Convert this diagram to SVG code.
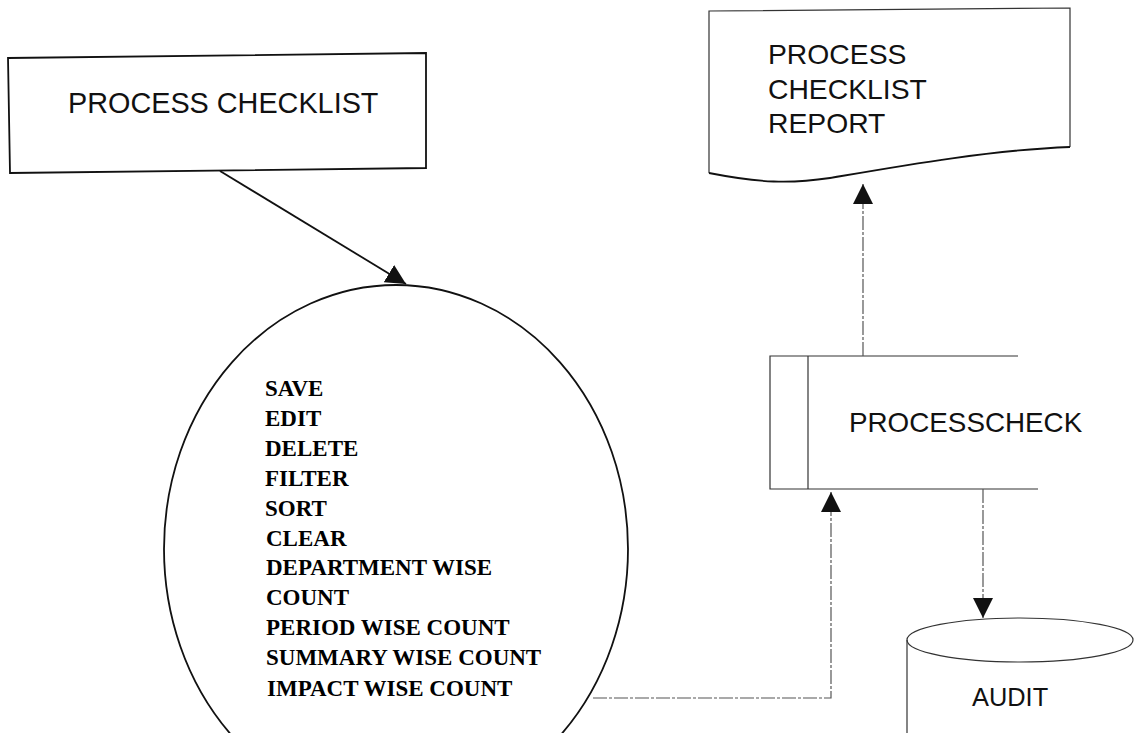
<svg xmlns="http://www.w3.org/2000/svg" width="1140" height="733" viewBox="0 0 1140 733">
  <style>
    .sans { font-family: "Liberation Sans", Arial, sans-serif; fill: #111; }
    .serif { font-family: "Liberation Serif", "Times New Roman", serif; font-weight: bold; font-size: 23px; fill: #000; }
    .edge { fill: none; stroke: #111; stroke-width: 1.8; }
    .thin { fill: none; stroke: #333; stroke-width: 1.2; }
    .flow { fill: none; stroke: #555; stroke-width: 1.2; stroke-dasharray: 14 2 3 2; }
  </style>
  <defs>
    <marker id="head" viewBox="0 0 20 20" refX="20" refY="10" markerWidth="20" markerHeight="20" markerUnits="userSpaceOnUse" orient="auto">
      <path d="M0,0 L20,10 L0,20 Z" fill="#111"/>
    </marker>
  </defs>
  <rect width="1140" height="733" fill="#fff"/>

  <!-- external entity -->
  <g id="process-checklist">
    <polygon class="edge" points="8,58 426,53 426,168 10,173"/>
    <text class="sans" x="68" y="113" font-size="28.8">PROCESS CHECKLIST</text>
  </g>

  <!-- process bubble with its operations -->
  <g id="operations">
    <ellipse class="edge" cx="396" cy="549" rx="232" ry="264" stroke-width="1.5"/>
    <text class="serif" x="265" y="396">SAVE</text>
    <text class="serif" x="265" y="426">EDIT</text>
    <text class="serif" x="265" y="456">DELETE</text>
    <text class="serif" x="265" y="486">FILTER</text>
    <text class="serif" x="265" y="516">SORT</text>
    <text class="serif" x="266" y="546">CLEAR</text>
    <text class="serif" x="266" y="575">DEPARTMENT WISE</text>
    <text class="serif" x="266" y="605">COUNT</text>
    <text class="serif" x="266" y="635">PERIOD WISE COUNT</text>
    <text class="serif" x="266" y="665">SUMMARY WISE COUNT</text>
    <text class="serif" x="267" y="696">IMPACT WISE COUNT</text>
  </g>

  <!-- report document -->
  <g id="report">
    <path class="thin" d="M709,173 L709,11 L1070,8 L1070,147"/>
    <path class="edge" stroke-width="1.5" d="M709,173 C760,183 790,184 830,178 C900,166 990,150 1070,147"/>
    <text class="sans" font-size="28.3">
      <tspan x="768" y="64">PROCESS</tspan>
      <tspan x="768" y="99">CHECKLIST</tspan>
      <tspan x="768" y="133">REPORT</tspan>
    </text>
  </g>

  <!-- data store -->
  <g id="processcheck">
    <path class="thin" d="M1018,356 L770,356 L770,489 L1038,489"/>
    <line class="thin" x1="808" y1="356" x2="808" y2="489"/>
    <text class="sans" x="849" y="432" font-size="27.8" fill="#222">PROCESSCHECK</text>
  </g>

  <!-- audit database -->
  <g id="audit">
    <ellipse class="thin" cx="1020" cy="640" rx="113" ry="22"/>
    <line class="thin" x1="907" y1="640" x2="907" y2="733"/>
    <text class="sans" x="972" y="706" font-size="25.4" fill="#222">AUDIT</text>
  </g>

  <!-- connectors -->
  <g id="connectors">
    <line class="edge" x1="220" y1="171" x2="406" y2="284" marker-end="url(#head)"/>
    <polyline class="flow" points="593,698 831,698 831,492" marker-end="url(#head)"/>
    <line class="flow" x1="863" y1="356" x2="863" y2="184" marker-end="url(#head)"/>
    <line class="flow" x1="983" y1="489" x2="983" y2="618" marker-end="url(#head)"/>
  </g>
</svg>
